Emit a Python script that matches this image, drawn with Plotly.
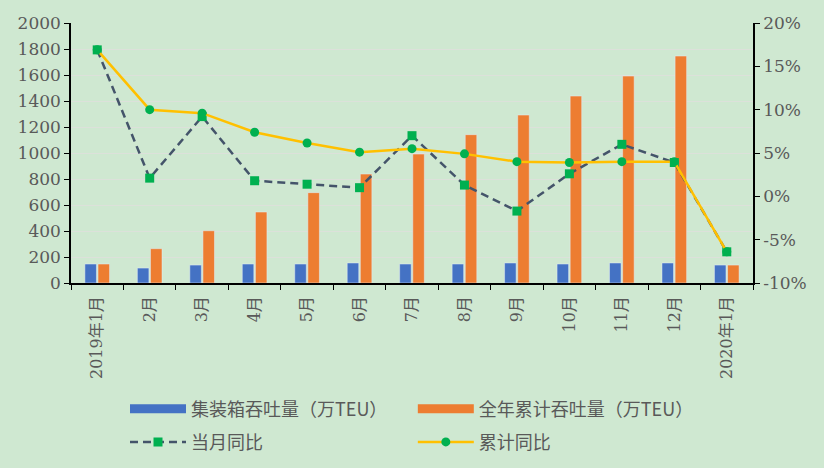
import plotly.graph_objects as go

categories = ["2019年1月", "2月", "3月", "4月", "5月", "6月", "7月", "8月", "9月", "10月", "11月", "12月", "2020年1月"]
monthly_teu = [146, 115, 138, 146, 146, 154, 146, 146, 154, 146, 154, 154, 138]
cumulative_teu = [146, 264, 402, 546, 695, 838, 992, 1141, 1292, 1438, 1592, 1746, 138]
monthly_yoy = [16.9, 2.1, 9.2, 1.8, 1.4, 1.0, 7.0, 1.3, -1.7, 2.6, 6.0, 3.9, -6.4]
cumulative_yoy = [16.9, 10.0, 9.6, 7.4, 6.15, 5.1, 5.5, 4.9, 4.0, 3.9, 4.0, 4.0, -6.4]
right_ticks = [-10, -5, 0, 5, 10, 15, 20]
right_labels = ["-10%", "-5%", "0%", "5%", "10%", "15%", "20%"]

names = ["集装箱吞吐量（万TEU）", "全年累计吞吐量（万TEU）", "当月同比", "累计同比"]
BLUE, ORANGE, GREEN, DARK, YELLOW = "#4472c4", "#ed7d31", "#00b050", "#44546a", "#ffc000"
BG = "#cfe8d1"
TXT = "#595959"
CJK = "Noto Sans CJK SC"
SERIF = "DejaVu Serif, Noto Sans CJK SC"

fig = go.Figure()
fig.add_trace(go.Bar(x=categories, y=monthly_teu, name=names[0], marker_color=BLUE, showlegend=False))
fig.add_trace(go.Bar(x=categories, y=cumulative_teu, name=names[1], marker_color=ORANGE, showlegend=False))
fig.add_trace(go.Scatter(x=[None], y=[None], mode="lines", line=dict(color=BLUE, width=9),
                         name=names[0], legend="legend"))
fig.add_trace(go.Scatter(x=[None], y=[None], mode="lines", line=dict(color=ORANGE, width=9),
                         name=names[1], legend="legend2"))
fig.add_trace(go.Scatter(x=categories, y=monthly_yoy, name=names[2], yaxis="y2", mode="lines+markers",
                         line=dict(color=DARK, width=2.5, dash="8px,5px"),
                         marker=dict(symbol="square", size=9, color=GREEN), legend="legend3"))
fig.add_trace(go.Scatter(x=categories, y=cumulative_yoy, name=names[3], yaxis="y2", mode="lines+markers",
                         line=dict(color=YELLOW, width=2.5),
                         marker=dict(symbol="circle", size=9, color=GREEN), legend="legend4"))

def leg(x, y):
    return dict(x=x, y=y, xref="container", yref="container", xanchor="left", yanchor="top", itemwidth=56,
                font=dict(family=CJK, size=18, color=TXT), bgcolor="rgba(0,0,0,0)")

fig.update_layout(
    width=824, height=468,
    margin=dict(l=71, r=71, t=23, b=185, autoexpand=False),
    paper_bgcolor=BG, plot_bgcolor=BG,
    barmode="group", bargap=0.5, bargroupgap=0.12,
    font=dict(family=SERIF, size=17, color=TXT),
    xaxis=dict(type="category", range=[-0.5, 12.5], tickangle=-90, tickson="boundaries", ticks="outside",
               ticklen=5, tickcolor="#000", showline=True, linecolor="#000", linewidth=1.5,
               ticklabelstandoff=5,
               tickfont=dict(family=SERIF, size=16, color=TXT), showgrid=False, automargin=False),
    yaxis=dict(range=[0, 2000], dtick=200, ticks="outside", ticklen=5, tickcolor="#000",
               showline=True, linecolor="#000", linewidth=1.5, gridcolor="rgba(225,222,222,0.7)",
               gridwidth=1, zeroline=False, tickfont=dict(family=SERIF, size=17, color=TXT), automargin=False),
    yaxis2=dict(range=[-10, 20], tickvals=right_ticks, ticktext=right_labels, overlaying="y", side="right",
                ticks="outside", ticklen=5, tickcolor="#000", showline=True, linecolor="#000", linewidth=1.5,
                showgrid=False, zeroline=False, tickfont=dict(family=SERIF, size=17, color=TXT), automargin=False),
    legend=leg(0.1517, 0.1653),
    legend2=leg(0.501, 0.1653),
    legend3=leg(0.1517, 0.0947),
    legend4=leg(0.501, 0.0947),
)

fig.write_html("out.html")
